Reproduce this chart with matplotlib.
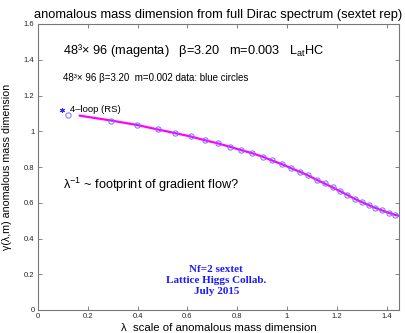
import matplotlib
matplotlib.use("Agg")
import matplotlib.pyplot as plt

# blue circles (m=0.002 data)
circ_x = [0.119, 0.294, 0.398, 0.481, 0.552, 0.613, 0.672, 0.723, 0.771, 0.817,
          0.861, 0.903, 0.941, 0.981, 1.017, 1.052, 1.086, 1.120, 1.152, 1.183,
          1.213, 1.243, 1.272, 1.300, 1.328, 1.355, 1.382, 1.408, 1.434]
circ_y = [1.092, 1.060, 1.035, 1.010, 0.989, 0.972, 0.949, 0.933, 0.914, 0.895,
          0.878, 0.858, 0.837, 0.816, 0.793, 0.774, 0.753, 0.728, 0.708, 0.687,
          0.666, 0.643, 0.622, 0.604, 0.587, 0.571, 0.557, 0.545, 0.533]

# magenta curve (m=0.003)
line_x = [0.168, 0.294, 0.398, 0.481, 0.552, 0.613, 0.672, 0.723, 0.771, 0.817,
          0.861, 0.903, 0.941, 0.981, 1.017, 1.052, 1.086, 1.120, 1.152, 1.183,
          1.213, 1.243, 1.272, 1.300, 1.328, 1.355, 1.382, 1.408, 1.434, 1.45]
line_y = [1.087, 1.060, 1.035, 1.010, 0.989, 0.971, 0.949, 0.932, 0.913, 0.894,
          0.877, 0.857, 0.836, 0.815, 0.793, 0.773, 0.752, 0.728, 0.707, 0.686,
          0.665, 0.643, 0.622, 0.604, 0.587, 0.571, 0.557, 0.544, 0.532, 0.527]

# 4-loop (RS) point
loop4_x = [0.097]
loop4_y = [1.12]

xticks = [0, 0.2, 0.4, 0.6, 0.8, 1, 1.2, 1.4]
xticklabels = ["0", "0.2", "0.4", "0.6", "0.8", "1", "1.2", "1.4"]
yticks = [0, 0.2, 0.4, 0.6, 0.8, 1, 1.2, 1.4, 1.6]
yticklabels = ["0", "0.2", "0.4", "0.6", "0.8", "1", "1.2", "1.4", "1.6"]

plt.rcParams['font.family'] = ['Liberation Sans', 'DejaVu Sans']
plt.rcParams['mathtext.fontset'] = 'custom'
plt.rcParams['mathtext.rm'] = 'Liberation Sans'
plt.rcParams['mathtext.it'] = 'Liberation Sans'

fig = plt.figure(figsize=(4.06, 3.33), dpi=100)
ax = fig.add_axes([38/406, 1 - 310/333, (399-38)/406, (310-24)/333])

ax.plot(line_x, line_y, color='#ff00ff', lw=1.6, zorder=2)
ax.plot(circ_x, circ_y, linestyle='none', marker='o', markersize=3.8,
        markerfacecolor='none', markeredgecolor='#6f6fff', markeredgewidth=0.7, zorder=3)
ax.plot(loop4_x, loop4_y, linestyle='none', marker=(6, 2, 0), markersize=3.5,
        color='#3030ff', markeredgewidth=0.8, zorder=3)

ax.set_xlim(0, 1.45)
ax.set_ylim(0, 1.6)
ax.set_xticks(xticks)
ax.set_xticklabels(xticklabels)
ax.set_yticks(yticks)
ax.set_yticklabels(yticklabels)
ax.tick_params(direction='in', top=True, right=True, length=3, width=0.5,
               labelsize=5.5, colors='#555555', labelcolor='#222222', pad=2.5)
for s in ax.spines.values():
    s.set_color('#777777')
    s.set_linewidth(0.8)

ax.set_title("anomalous mass dimension from full Dirac spectrum (sextet rep)",
             fontsize=9.3, pad=4)
ax.set_xlabel("λ  scale of anomalous mass dimension", fontsize=8.2)
ax.xaxis.set_label_coords(0.5, -0.045)
ax.set_ylabel("γ(λ,m) anomalous mass dimension", fontsize=7.7)
ax.yaxis.set_label_coords(-0.072, 0.5)

ax.text(0.099, 1.45, "48³× 96 (magenta)   β=3.20   m=0.003   L$_{\\rm at}$HC",
        fontsize=9.2, va='center', ha='left')
ax.text(0.099, 1.30, "48³× 96 β=3.20  m=0.002 data: blue circles",
        fontsize=7.0, va='center', ha='left')
ax.text(0.127, 1.12, "4–loop (RS)", fontsize=6.8, va='center', ha='left')
ax.text(0.099, 0.70, "λ$^{-1}$ ~ footprint of gradient flow?",
        fontsize=9.2, va='center', ha='left')
ax.text(0.716, 0.165, "Nf=2 sextet\nLattice Higgs Collab.\nJuly 2015",
        fontsize=8.0, color='#1a1aff', ha='center', va='center',
        family='Liberation Serif', fontweight='bold', linespacing=1.35)

fig.savefig("out.png", dpi=100)
